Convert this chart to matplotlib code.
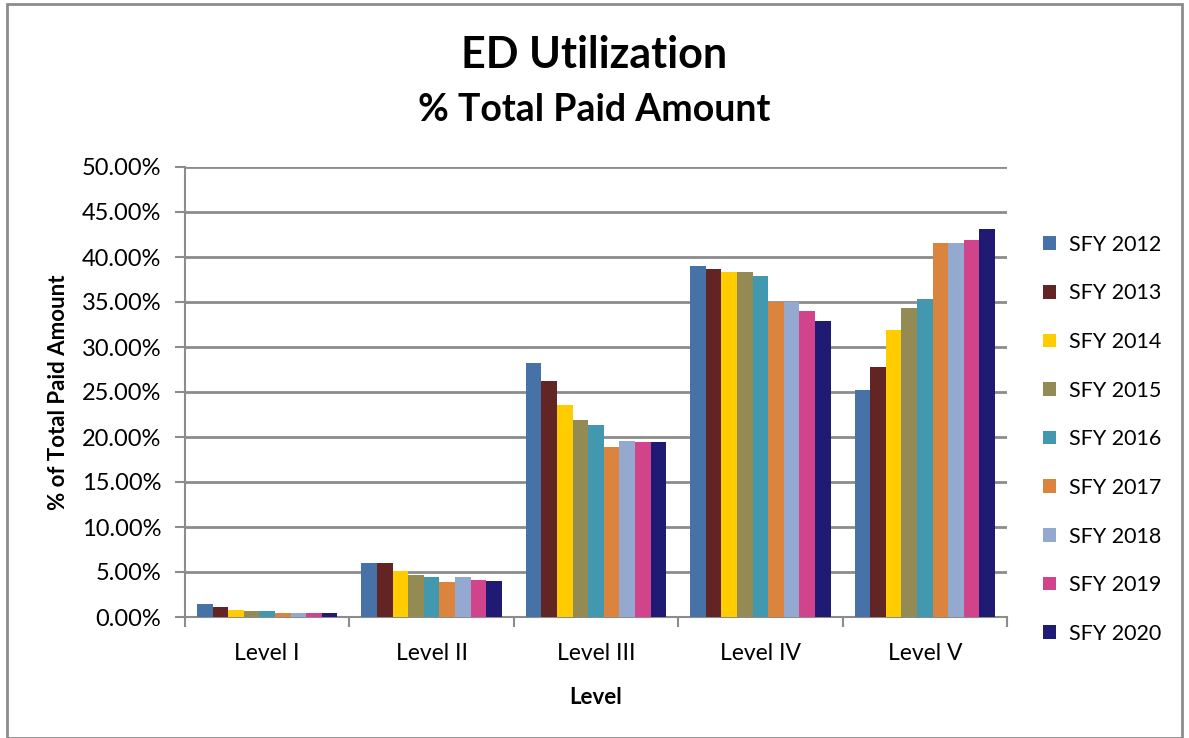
import numpy as np
import matplotlib
matplotlib.use("Agg")
import matplotlib.pyplot as plt
from matplotlib.patches import Rectangle

plt.rcParams["font.family"] = ["Lato", "DejaVu Sans"]

# --- Andmed ---
levels = ["Level I", "Level II", "Level III", "Level IV", "Level V"]
years = ["SFY 2012", "SFY 2013", "SFY 2014", "SFY 2015", "SFY 2016",
         "SFY 2017", "SFY 2018", "SFY 2019", "SFY 2020"]
sfy2012 = [1.44, 5.96, 28.2, 39.0, 25.2]
sfy2013 = [1.07, 5.96, 26.2, 38.7, 27.8]
sfy2014 = [0.80, 5.10, 23.6, 38.3, 31.9]
sfy2015 = [0.67, 4.67, 21.9, 38.3, 34.3]
sfy2016 = [0.67, 4.40, 21.3, 37.85, 35.3]
sfy2017 = [0.40, 3.85, 18.9, 35.0, 41.5]
sfy2018 = [0.40, 4.40, 19.6, 35.0, 41.5]
sfy2019 = [0.40, 4.10, 19.5, 34.0, 41.85]
sfy2020 = [0.40, 3.96, 19.5, 32.9, 43.1]
series = [sfy2012, sfy2013, sfy2014, sfy2015, sfy2016,
          sfy2017, sfy2018, sfy2019, sfy2020]

COLORS = ["#4672A8", "#632523", "#FFCC00", "#948A54", "#4198AF",
          "#DB843D", "#93A9CF", "#D1438A", "#1F1A73"]

fig = plt.figure(figsize=(11.89, 7.38), dpi=100)
ax = fig.add_axes([185 / 1189, 1 - 617 / 738, 822 / 1189, 450 / 738])

# raam ümber kogu pildi
fig.patches.append(Rectangle((7 / 1189, 0.0), 1 - 14 / 1189, 1 - 4 / 738,
                             transform=fig.transFigure, fill=False,
                             edgecolor="#8C8C8C", linewidth=2))

x = np.arange(len(levels))
n = len(series)
group_w = 0.855
w = group_w / n
for i, (vals, c, lab) in enumerate(zip(series, COLORS, years)):
    ax.bar(x - group_w / 2 + w * (i + 0.5), vals, width=w, color=c, label=lab,
           zorder=3)

ax.set_xlim(-0.5, len(levels) - 0.5)
ax.set_ylim(0, 50)
ax.set_yticks(np.arange(0, 50.1, 5))
ax.set_yticklabels([f"{v:.2f}%" for v in np.arange(0, 50.1, 5)], fontsize=17)
ax.set_xticks(x)
ax.set_xticklabels(levels, fontsize=16.5)
ax.set_xticks(np.arange(-0.5, len(levels), 1), minor=True)
ax.tick_params(axis="x", which="major", length=0, pad=19)
ax.tick_params(axis="x", which="minor", length=7, width=1.5, color="#8C8C8C")
ax.tick_params(axis="y", length=7, width=1.5, color="#8C8C8C", pad=10)

ax.grid(axis="y", color="#8C8C8C", linewidth=2, zorder=0)
for s in ["top", "right"]:
    ax.spines[s].set_visible(False)
for s in ["left", "bottom"]:
    ax.spines[s].set_color("#8C8C8C")
    ax.spines[s].set_linewidth(1.5)

ax.set_xlabel("Level", fontsize=16, fontweight="bold", labelpad=16)
ax.set_ylabel("% of Total Paid Amount", fontsize=16, fontweight="bold", labelpad=9)

fig.text(0.5, 1 - 55 / 738, "ED Utilization", ha="center", va="center",
         fontsize=31, fontweight="bold")
fig.text(0.5, 1 - 110 / 738, "% Total Paid Amount", ha="center", va="center",
         fontsize=27, fontweight="bold")

ax.legend(loc="center left", bbox_to_anchor=(1.02, 0.395), frameon=False,
          fontsize=15.5, handlelength=0.6, handleheight=0.6, labelspacing=1.33,
          handletextpad=0.6)

fig.savefig("out.png", dpi=100)
